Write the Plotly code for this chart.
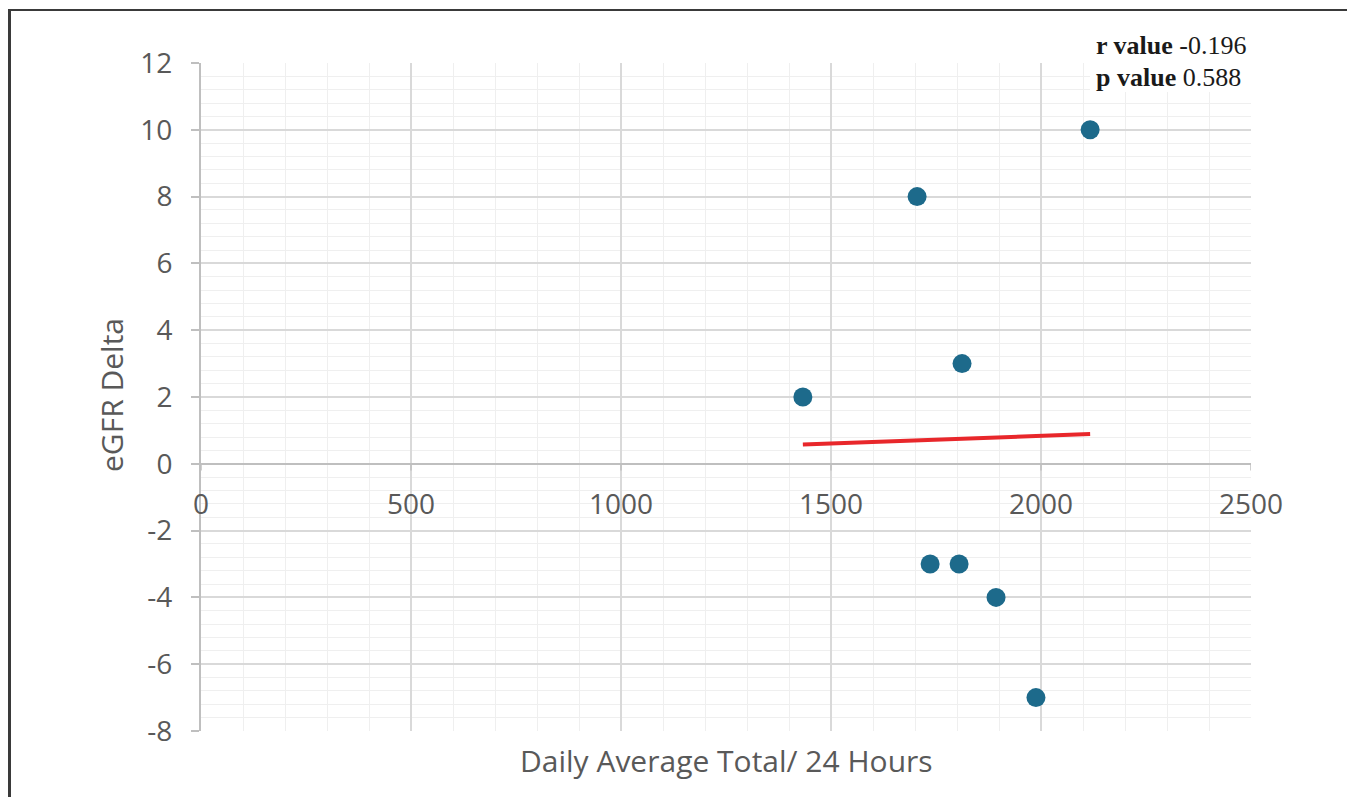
import numpy as np
import plotly.graph_objects as go

# Data
daily_avg_total = [1433, 1705, 2117, 1812, 1736, 1805, 1893, 1988]
egfr_delta = [2, 8, 10, 3, -3, -3, -4, -7]

x_tick_vals = [0, 500, 1000, 1500, 2000, 2500]
x_tick_text = ["0", "500", "1000", "1500", "2000", "2500"]
y_tick_vals = [-8, -6, -4, -2, 0, 2, 4, 6, 8, 10, 12]
y_tick_text = ["-8", "-6", "-4", "-2", "0", "2", "4", "6", "8", "10", "12"]

x_title = "Daily Average Total/ 24 Hours"
y_title = "eGFR Delta"
stats_lines = [("r value", "-0.196"), ("p value", "0.588")]

# Linear trendline (least squares, as in the spreadsheet)
slope, intercept = np.polyfit(daily_avg_total, egfr_delta, 1)
trend_x = [min(daily_avg_total), max(daily_avg_total)]
trend_y = [slope * v + intercept for v in trend_x]

OFF = 8  # page body margin
W, H = 1355 - OFF, 797 - OFF
L, R, T, B = 201 - OFF, 1251 - OFF, 63 - OFF, 731 - OFF


def px(xp):
    return (xp - OFF - L) / (R - L)


def py(yp):
    return (B - (yp - OFF)) / (B - T)


grey = "#595959"
font_family = "Open Sans, Liberation Sans, sans-serif"

fig = go.Figure()
fig.add_trace(go.Scatter(
    x=daily_avg_total, y=egfr_delta, mode="markers",
    marker=dict(size=19, color="#1D6A8B"),
    showlegend=False, cliponaxis=False,
))
fig.add_trace(go.Scatter(
    x=trend_x, y=trend_y, mode="lines",
    line=dict(color="#E8272B", width=4),
    showlegend=False,
))

fig.update_layout(
    width=W, height=H,
    margin=dict(l=L, r=W - R, t=T, b=H - B),
    paper_bgcolor="white", plot_bgcolor="white",
    font=dict(family=font_family, color=grey, size=27),
)
fig.update_xaxes(
    range=[0, 2500], tickvals=x_tick_vals, showticklabels=False,
    showgrid=True, gridcolor="#d9d9d9", gridwidth=1.5,
    minor=dict(dtick=100, showgrid=True, gridcolor="#efefef", gridwidth=1),
    zeroline=False, showline=False, ticks="",
)
fig.update_yaxes(
    range=[-8, 12], tickvals=y_tick_vals, ticktext=y_tick_text,
    showgrid=True, gridcolor="#d9d9d9", gridwidth=1.5,
    minor=dict(dtick=0.4, showgrid=True, gridcolor="#efefef", gridwidth=1),
    zeroline=True, zerolinecolor="#bfbfbf", zerolinewidth=2,
    showline=True, linecolor="#bfbfbf", linewidth=2,
    ticks="outside", ticklen=8, tickcolor="#bfbfbf", tickwidth=1.5,
    ticklabelstandoff=13,
    tickfont=dict(size=28, color=grey),
)

shapes = []
# x tick marks on the zero line
for v in x_tick_vals:
    shapes.append(dict(type="line", xref="x", yref="y", x0=v, x1=v, y0=0, y1=-0.2,
                       line=dict(color="#bfbfbf", width=1.5)))
# white box behind stats text
shapes.append(dict(type="rect", xref="paper", yref="paper",
                   x0=px(1090), x1=px(1257), y0=py(92), y1=py(26),
                   fillcolor="white", line=dict(width=0), layer="above"))
# outer frame (left and top edges), kept inside the figure
shapes.append(dict(type="line", xref="paper", yref="paper",
                   x0=px(9.5), x1=px(9.5), y0=py(10), y1=py(H + OFF),
                   line=dict(color="#3a3a3a", width=3)))
shapes.append(dict(type="line", xref="paper", yref="paper",
                   x0=px(8), x1=px(W + OFF), y0=py(10), y1=py(10),
                   line=dict(color="#3a3a3a", width=2)))
fig.update_layout(shapes=shapes)

ann = []
for v, t in zip(x_tick_vals, x_tick_text):
    ann.append(dict(x=v, y=0, xref="x", yref="y", text=t, showarrow=False,
                    yanchor="middle", yshift=-39, font=dict(size=28, color=grey)))
ann.append(dict(x=px(726), y=py(760), xref="paper", yref="paper", text=x_title,
                showarrow=False, xanchor="center", yanchor="middle",
                font=dict(size=30, color=grey)))
ann.append(dict(x=px(111), y=py(395), xref="paper", yref="paper", text=y_title,
                showarrow=False, xanchor="center", yanchor="middle", textangle=-90,
                font=dict(size=30, color=grey)))
for i, (lab, val) in enumerate(stats_lines):
    ann.append(dict(x=px(1094), y=py(45 + 33 * i), xref="paper", yref="paper",
                    text=f"<b>{lab}</b> {val}", showarrow=False,
                    xanchor="left", yanchor="middle",
                    font=dict(family="Liberation Serif, Times New Roman, serif",
                              size=26, color="#1a1a1a")))
fig.update_layout(annotations=ann)

fig.write_html("out.html",
               post_script="document.body.style.overflow='hidden';"
                           "document.documentElement.style.overflow='hidden';")
